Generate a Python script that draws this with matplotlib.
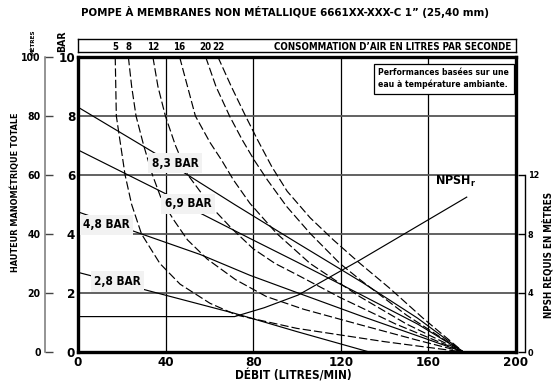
import matplotlib
matplotlib.use('Agg')
import matplotlib.pyplot as plt
from matplotlib import font_manager as fm

# pick a condensed bold sans font if one is installed, else Roboto
main_family, main_stretch = 'Roboto', 'normal'
cond = []
for f in fm.fontManager.ttflist:
    tag = (f.name + ' ' + f.fname + ' ' + str(f.stretch)).lower()
    if ('condensed' in tag or 'narrow' in tag) and 'mono' not in tag and 'serif' not in f.name.lower():
        cond.append(f)
pref = ['Liberation Sans Narrow', 'DejaVu Sans', 'Noto Sans', 'Open Sans', 'Roboto']
for p in pref:
    hit = [f for f in cond if f.name.startswith(p)]
    if hit:
        main_family, main_stretch = hit[0].name, hit[0].stretch
        break

plt.rcParams['font.family'] = [main_family, 'DejaVu Sans']
plt.rcParams['font.stretch'] = main_stretch
plt.rcParams['font.weight'] = 'bold'
plt.rcParams['mathtext.fontset'] = 'custom'
plt.rcParams['mathtext.bf'] = main_family + ':bold'
plt.rcParams['mathtext.rm'] = main_family + ':bold'
plt.rcParams['lines.scale_dashes'] = False

# ---------------- data ----------------
flow_ticks = [0, 40, 80, 120, 160, 200]
bar_ticks = [0, 2, 4, 6, 8, 10]
metre_ticks = [0, 20, 40, 60, 80, 100]
npsh_ticks = [0, 4, 8, 12]

# pressure curves (solid): flow l/min, head bar
p83_flow = [0, 36, 48, 71.5, 100, 130, 155, 176]
p83_head = [8.3, 6.7, 6.1, 5.0, 3.7, 2.35, 1.15, 0]
p69_flow = [0, 39.6, 56, 78.5, 100, 129, 155, 176]
p69_head = [6.85, 5.38, 4.7, 3.85, 3.05, 1.95, 0.95, 0]
p48_flow = [0, 26, 56, 78.5, 100.5, 130, 155, 176]
p48_head = [4.75, 4.08, 3.3, 2.6, 2.0, 1.2, 0.55, 0]
p28_flow = [0, 30, 71.5, 100, 133]
p28_head = [2.7, 2.12, 1.31, 0.69, 0]
pressure_labels = ['8,3 BAR', '6,9 BAR', '4,8 BAR', '2,8 BAR']

# air consumption curves (dashed), litres per second
a5_flow = [17, 17.5, 21.5, 24.5, 29, 37.4, 46.6, 60.3, 72.5, 100, 140, 176]
a5_head = [10, 8, 6, 5, 4, 3.0, 2.3, 1.65, 1.25, 0.8, 0.35, 0]
a8_flow = [23, 24.5, 26.5, 30, 34, 38.5, 43.5, 50, 59, 72, 86, 103, 130, 155, 176]
a8_head = [10, 9, 8, 7, 6, 5.1, 4.5, 3.8, 3.15, 2.45, 1.88, 1.45, 0.9, 0.4, 0]
a12_flow = [34.2, 36.5, 39.9, 44.5, 50.2, 55.7, 62.4, 70, 80, 90, 100.5, 119.6, 145, 176]
a12_head = [10, 9, 8, 7, 6, 5.45, 4.8, 4.2, 3.5, 3.0, 2.6, 1.85, 0.95, 0]
a16_flow = [46.4, 50, 53.6, 60.3, 65.6, 71, 78.5, 90.7, 106, 128.8, 150, 176]
a16_head = [10, 9, 8, 7.1, 6.5, 5.83, 5.04, 4.02, 3.0, 1.87, 0.95, 0]
a20_flow = [58.3, 63, 69.2, 75, 80.5, 86.5, 95.3, 106, 119.6, 128.8, 150, 176]
a20_head = [10, 9, 8, 7.19, 6.5, 5.83, 4.93, 4.02, 3.0, 2.45, 1.25, 0]
a22_flow = [63.9, 70, 76.5, 82, 88.5, 95.5, 106, 116.6, 128.8, 142.5, 157.5, 176]
a22_head = [10, 9, 8, 7.19, 6.28, 5.45, 4.55, 3.8, 3.0, 2.15, 1.15, 0]
air_labels = ['5', '8', '12', '16', '20', '22']

# NPSH required (metres)
npsh_flow = [0, 71.5, 85, 100.5, 128.8, 177.5]
npsh_m = [2.4, 2.4, 3.0, 3.86, 6.24, 10.5]

# ---------------- figure ----------------
W, H = 560, 387
fig = plt.figure(figsize=(W / 100, H / 100), dpi=100)
L, R, T, B = 78, 516, 57, 352
ax = fig.add_axes([L / W, 1 - B / H, (R - L) / W, (B - T) / H])
ax.set_xlim(0, 200)
ax.set_ylim(0, 10)
ax.set_xticks(flow_ticks)
ax.set_yticks(bar_ticks)
ax.tick_params(length=0, labelsize=9.5, pad=3)
ax.tick_params(axis='y', pad=2)
for s in ax.spines.values():
    s.set_linewidth(2.4)
ax.xaxis.grid(True, color='black', lw=0.9, zorder=1)
ax.yaxis.grid(True, color='#555555', lw=1.3, zorder=1)
ax.set_axisbelow(True)

for fx, hy in [(p83_flow, p83_head), (p69_flow, p69_head),
               (p48_flow, p48_head), (p28_flow, p28_head)]:
    ax.plot(fx, hy, color='black', lw=0.85, zorder=3)

air_curves = [(a5_flow, a5_head), (a8_flow, a8_head), (a12_flow, a12_head),
              (a16_flow, a16_head), (a20_flow, a20_head), (a22_flow, a22_head)]
for fx, hy in air_curves:
    ax.plot(fx, hy, color='black', lw=0.85, dashes=(6, 2.2), zorder=3)

label_pos = [(44.3, 6.4), (50.2, 5.02), (13.0, 4.32), (18.0, 2.39)]
for txt, (lx, ly) in zip(pressure_labels, label_pos):
    ax.text(lx, ly, txt, ha='center', va='center', fontsize=8.5, zorder=6,
            bbox=dict(facecolor='#f2f2f2', edgecolor='none',
                      boxstyle='square,pad=0.3'))

ax.text(0.686, 0.963, 'Performances basées sur une\neau à température ambiante.',
        transform=ax.transAxes, ha='left', va='top', fontsize=6.2,
        linespacing=1.4, zorder=6,
        bbox=dict(facecolor='white', edgecolor='black', lw=0.9,
                  boxstyle='square,pad=0.5'))

# left metres axis
axm = ax.twinx()
axm.set_ylim(0, 100)
axm.set_yticks(metre_ticks)
axm.yaxis.set_ticks_position('left')
axm.spines['left'].set_position(('outward', 24))
axm.spines['left'].set_color('#777777')
axm.spines['left'].set_linewidth(1.1)
for k in ['right', 'top', 'bottom']:
    axm.spines[k].set_visible(False)
axm.tick_params(axis='y', direction='in', length=6, width=1, color='#444444',
                labelsize=7.5, pad=3)

# right NPSH axis
axn = ax.twinx()
axn.set_ylim(0, 20)
axn.set_yticks(npsh_ticks)
axn.spines['right'].set_position(('outward', 6.5))
axn.spines['right'].set_bounds(0, 12)
axn.spines['right'].set_linewidth(1.0)
for k in ['left', 'top', 'bottom']:
    axn.spines[k].set_visible(False)
axn.tick_params(axis='y', direction='in', length=5, width=1, labelsize=6.5, pad=2)
axn.plot(npsh_flow, npsh_m, color='black', lw=0.85, zorder=3)
axn.text(npsh_flow[-1] - 5, npsh_m[-1] + 0.55, r'NPSH$_\mathbf{r}$', ha='center',
         va='bottom', fontsize=9)

# top air consumption box
axt = fig.add_axes([L / W, 1 - 52 / H, (R - L) / W, 13 / H])
axt.set_xlim(0, 200)
axt.set_ylim(0, 1)
axt.set_xticks([])
axt.set_yticks([])
for s in axt.spines.values():
    s.set_linewidth(1.0)
for (fx, hy), lab in zip(air_curves, air_labels):
    axt.text(fx[0], 0.38, lab, ha='center', va='center', fontsize=7)
axt.text(0.99, 0.42, 'CONSOMMATION D’AIR EN LITRES PAR SECONDE',
         transform=axt.transAxes, ha='right', va='center', fontsize=7)

# texts
fig.text(285 / W, 1 - 12 / H,
         'POMPE À MEMBRANES NON MÉTALLIQUE 6661XX-XXX-C 1” (25,40 mm)',
         ha='center', va='center', fontsize=8.2)
fig.text(293 / W, 1 - 376 / H, 'DÉBIT (LITRES/MIN)', ha='center', va='center',
         fontsize=8.5)
fig.text(15 / W, 1 - 192 / H, 'HAUTEUR MANOMÉTRIQUE TOTALE', rotation=90,
         ha='center', va='center', fontsize=6.5)
fig.text(548 / W, 1 - 255 / H, 'NPSH REQUIS EN MÈTRES', rotation=90,
         ha='center', va='center', fontsize=7)
fig.text(33 / W, 1 - 42 / H, 'MÈTRES', rotation=90, ha='center', va='center',
         fontsize=4.5)
fig.text(62 / W, 1 - 41 / H, 'BAR', rotation=90, ha='center', va='center',
         fontsize=7.5)

fig.savefig('out.png', dpi=100)
